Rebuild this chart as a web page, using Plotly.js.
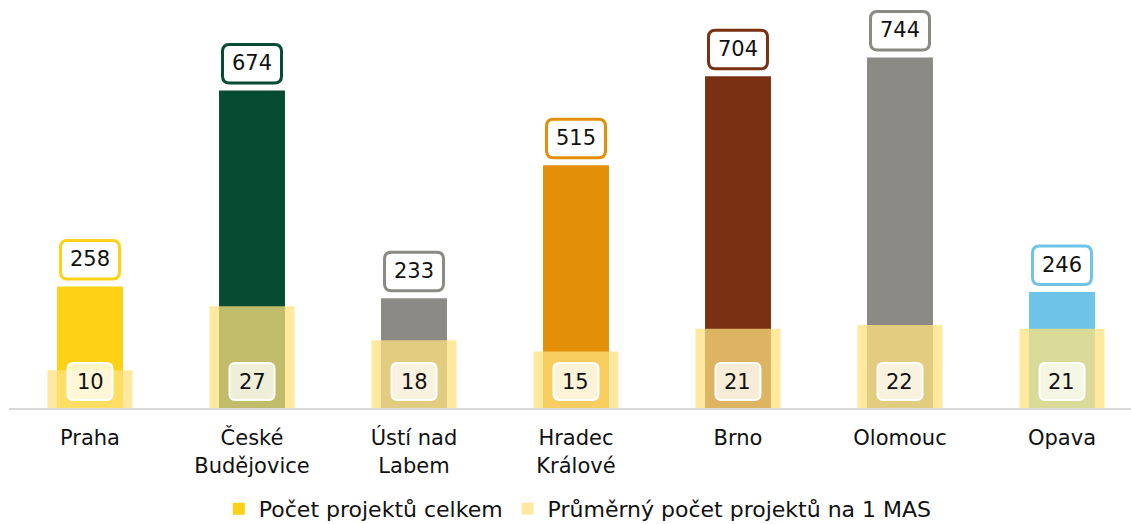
<!DOCTYPE html>
<html>
<head>
<meta charset="utf-8">
<script src="https://cdn.plot.ly/plotly-3.0.1.min.js"></script>
<style>html,body{margin:0;padding:0;background:#fff;}#chart{width:1131px;height:524px;}</style>
</head>
<body>
<div id="chart"></div>
<script>
const categories = ["Praha", "České<br>Budějovice", "Ústí nad<br>Labem", "Hradec<br>Králové", "Brno", "Olomouc", "Opava"];
const totalProjects = [258, 674, 233, 515, 704, 744, 246];
const avgPerMAS = [10, 27, 18, 15, 21, 22, 21];
const barColors = ["#FCD116", "#064B32", "#8C8A84", "#E38F08", "#7A3013", "#8C8A84", "#6EC4E8"];
const seriesNames = ["Počet projektů celkem", "Průměrný počet projektů na 1 MAS"];

const FONT = "DejaVu Sans, Verdana, sans-serif";

function roundRect(x0, y0, x1, y1, r) {
  return `M ${x0 + r},${y0} L ${x1 - r},${y0} Q ${x1},${y0} ${x1},${y0 + r} L ${x1},${y1 - r} Q ${x1},${y1} ${x1 - r},${y1} L ${x0 + r},${y1} Q ${x0},${y1} ${x0},${y1 - r} L ${x0},${y0 + r} Q ${x0},${y0} ${x0 + r},${y0} Z`;
}

const idx = categories.map((c, i) => i);

const traces = [
  {
    type: "bar", name: seriesNames[0], x: idx, y: totalProjects,
    marker: { color: barColors }, width: 0.407, yaxis: "y",
    hoverinfo: "skip"
  },
  {
    type: "bar", name: seriesNames[1], x: idx, y: avgPerMAS,
    marker: { color: "rgba(255,226,126,0.75)" }, width: 0.525, yaxis: "y2",
    hoverinfo: "skip"
  }
];

const shapes = [];
const annotations = [];
idx.forEach(i => {
  shapes.push({
    type: "path", xref: "x", yref: "y", xsizemode: "pixel", ysizemode: "pixel",
    xanchor: i, yanchor: totalProjects[i],
    path: roundRect(-29.5, 7.5, 29.5, 46, 7),
    fillcolor: "#ffffff", line: { color: barColors[i], width: 3 }, layer: "above"
  });
  annotations.push({
    xref: "x", yref: "y", x: i, y: totalProjects[i], yshift: 27,
    text: String(totalProjects[i]), showarrow: false, yanchor: "middle",
    font: { family: FONT, size: 21, color: "#111" }
  });
  shapes.push({
    type: "path", xref: "x", yref: "y2", xsizemode: "pixel", ysizemode: "pixel",
    xanchor: i, yanchor: 0,
    path: roundRect(-22.5, 8, 22.5, 45, 6),
    fillcolor: "rgba(255,255,255,0.75)", line: { color: "#ffffff", width: 2 }, layer: "above"
  });
  annotations.push({
    xref: "x", yref: "y2", x: i, y: 0, yshift: 26.5,
    text: String(avgPerMAS[i]), showarrow: false, yanchor: "middle",
    font: { family: FONT, size: 21, color: "#111" }
  });
});

const layout = {
  width: 1131, height: 524,
  margin: { l: 9, r: 0, t: 0, b: 116, autoexpand: false },
  paper_bgcolor: "#ffffff", plot_bgcolor: "#ffffff",
  barmode: "overlay",
  showlegend: true,
  font: { family: FONT, size: 21, color: "#111" },
  xaxis: {
    type: "linear", range: [-0.5, 6.426],
    tickmode: "array", tickvals: idx, ticktext: categories,
    showgrid: false, zeroline: false, showline: true, linecolor: "#D9D9D9", linewidth: 2,
    ticks: "", ticklabelstandoff: 10,
    tickfont: { family: FONT, size: 21, color: "#111" }, fixedrange: true
  },
  yaxis: { range: [0, 865.8], visible: false, showgrid: false, zeroline: false, fixedrange: true },
  yaxis2: { range: [0, 108.2], overlaying: "y", visible: false, showgrid: false, zeroline: false, fixedrange: true },
  legend: {
    orientation: "h", x: 0.187, xanchor: "left", yref: "container", y: 0.069, yanchor: "top",
    font: { family: FONT, size: 22, color: "#111" }, traceorder: "normal"
  },
  shapes: shapes,
  annotations: annotations
};

Plotly.newPlot("chart", traces, layout, { displayModeBar: false, staticPlot: true });
</script>
</body>
</html>
